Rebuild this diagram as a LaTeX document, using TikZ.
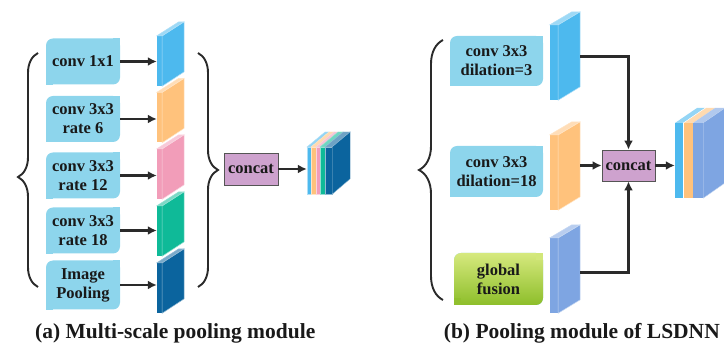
\documentclass[tikz,border=0pt]{standalone}
\usepackage{fontspec}
\setmainfont{Liberation Serif}
\usetikzlibrary{arrows.meta,decorations.pathreplacing,calc}
\definecolor{boxblue}{HTML}{8DD5EC}
\definecolor{slabblue}{HTML}{4DB9EE}
\definecolor{slaborange}{HTML}{FFC27C}
\definecolor{slabpink}{HTML}{F29DB9}
\definecolor{slabteal}{HTML}{0FBA98}
\definecolor{slabnavy}{HTML}{0B649E}
\definecolor{slabperi}{HTML}{7EA5E2}
\definecolor{concatpurple}{HTML}{CEA2CE}
\definecolor{greentop}{HTML}{D6E97E}
\definecolor{greenbot}{HTML}{8DBE2A}
\definecolor{linegray}{HTML}{2A2A2A}
\begin{document}
\begin{tikzpicture}[x=1pt, y=-1pt, >={Latex[length=9pt,width=9pt]},
  every node/.style={align=center, text=black!90, font=\fontsize{16.5}{19}\selectfont\bfseries},
  box/.style={fill=boxblue, rounded corners=7pt, minimum height=46pt, inner sep=2pt},
  slab/.style={rectangle, inner sep=0pt, minimum width=5pt},
  concatbox/.style={draw=linegray!80, line width=0.8pt, fill=concatpurple, inner sep=2pt},
  arr/.style={->, draw=linegray, line width=2.3pt},
  brc/.style={draw=linegray, line width=1.9pt, decorate, decoration={brace, amplitude=20pt}},
  caption/.style={font=\fontsize{21.5}{24}\selectfont\bfseries, inner sep=0pt}]
\useasboundingbox (0,0) rectangle (724,347);

% (a) multi-scale pooling
\node[box, minimum width=74pt] (b1) at (83,61.5) {conv 1x1};
\node[box, minimum width=74pt] (b2) at (83,119) {conv 3x3\\rate 6};
\node[box, minimum width=74pt] (b3) at (83,175.5) {conv 3x3\\rate 12};
\node[box, minimum width=74pt] (b4) at (83,230.5) {conv 3x3\\rate 18};
\node[box, minimum width=74pt, minimum height=49pt] (b5) at (83,285) {Image\\Pooling};

\foreach \i/\yc/\col in {1/61/slabblue, 2/117.5/slaborange, 3/174/slabpink, 4/231/slabteal, 5/288/slabnavy} {
  \node[slab, fill=\col, minimum height=50pt] (s\i) at (159.5,\yc) {};
  \filldraw[fill=\col, draw=white!55!\col, line width=0.5pt] (s\i.north east) -- ++(22,-14) -- ++(0,50) -- (s\i.south east) -- cycle;
  \filldraw[fill=\col!55!white, draw=white!55!\col, line width=0.5pt] (s\i.north west) -- ++(22,-14) -- ++(5,0) -- (s\i.north east) -- cycle;
  \draw[arr] (b\i.east) -- (b\i.east -| s\i.west);
}

\draw[brc, decoration={aspect=0.47}] (38,287) -- (38,53);
\draw[brc] (198,53) -- (198,287);

\node[concatbox, minimum width=54pt, minimum height=32pt] (ca) at (251,169) {concat};
\node[slab, minimum width=25pt, minimum height=47pt] (sta) at (319.5,170.5) {};
\foreach \a/\b/\col in {307/311/slabblue, 311/316/slaborange, 316/320/slabpink, 320/325/slabteal, 325/332/slabnavy} {
  \filldraw[fill=\col, draw=white!55!\col, line width=0.4pt] (\a,147) rectangle (\b,194);
  \filldraw[fill=\col!60!white, draw=white!55!\col, line width=0.4pt] (\a,147) -- ++(18,-15) -- (\b+18,132) -- (\b,147) -- cycle;
}
\filldraw[fill=slabnavy, draw=white!55!slabnavy, line width=0.4pt] (sta.north east) -- ++(18,-15) -- ++(0,47) -- (sta.south east) -- cycle;
\draw[arr] (ca.east) -- (ca.east -| sta.west);

% (b) pooling module of LSDNN
\node[box, minimum width=93pt, minimum height=50pt] (c1) at (496.5,61) {conv 3x3\\dilation=3};
\node[box, minimum width=93pt, minimum height=51pt] (c2) at (496.5,171.5) {conv 3x3\\dilation=18};
\node[box, top color=greentop, bottom color=greenbot, minimum width=89pt, minimum height=52pt] (c3) at (498.5,279) {global\\fusion};

\foreach \n in {b1,b2,b3,b4,b5,c1,c2} {
  \fill[boxblue] (\n.south west) rectangle ++(7,-7);
  \fill[boxblue] (\n.north east) rectangle ++(-7,7);
}
\fill[greenbot!95!greentop] (c3.south west) rectangle ++(7,-7);
\fill[greentop!95!greenbot] (c3.north east) rectangle ++(-7,7);

\foreach \i/\yc/\col/\dy in {1/62.5/slabblue/-6, 2/172.5/slaborange/-7, 3/275.5/slabperi/-3} {
  \node[slab, minimum width=8pt, fill=\col, minimum height=75pt] (q\i) at (554,\yc) {};
  \filldraw[fill=\col, draw=white!55!\col, line width=0.5pt] (q\i.north east) -- ++(22,-13) -- ++(0,75) -- (q\i.south east) -- cycle;
  \filldraw[fill=\col!55!white, draw=white!55!\col, line width=0.5pt] (q\i.north west) -- ++(22,-13) -- ++(8,0) -- (q\i.north east) -- cycle;
  \coordinate (q\i o) at ($(q\i.east)+(22,\dy)$);
}

\draw[brc, decoration={amplitude=24pt}] (443,300) -- (443,40);

\node[concatbox, minimum width=53pt, minimum height=31pt] (cb) at (628.5,165.5) {concat};
\draw[arr] (q1o) -| (cb);
\draw[arr] (q2o) -- (q2o -| cb.west);
\draw[arr] (q3o) -| (cb);

\node[slab, minimum width=28pt, minimum height=75pt] (stb) at (689,160.5) {};
\foreach \a/\b/\col in {675/683/slabblue, 683/684/white, 684/693/slaborange, 693/703/slabperi} {
  \fill[\col] (\a,123) rectangle (\b,198);
  \fill[\col!60!white] (\a,123) -- ++(22,-15) -- (\b+22,108) -- (\b,123) -- cycle;
}
\filldraw[fill=slabperi, draw=white!55!slabperi, line width=0.4pt] (stb.north east) -- ++(22,-15) -- ++(0,75) -- (stb.south east) -- cycle;
\draw[arr] (cb.east) -- (cb.east -| stb.west);

\node[caption, anchor=west] (capa) at (35,333) {(a) Multi-scale pooling module};
\node[caption, anchor=east] (capb) at (720,333) {(b) Pooling module of LSDNN};
\end{tikzpicture}
\end{document}
